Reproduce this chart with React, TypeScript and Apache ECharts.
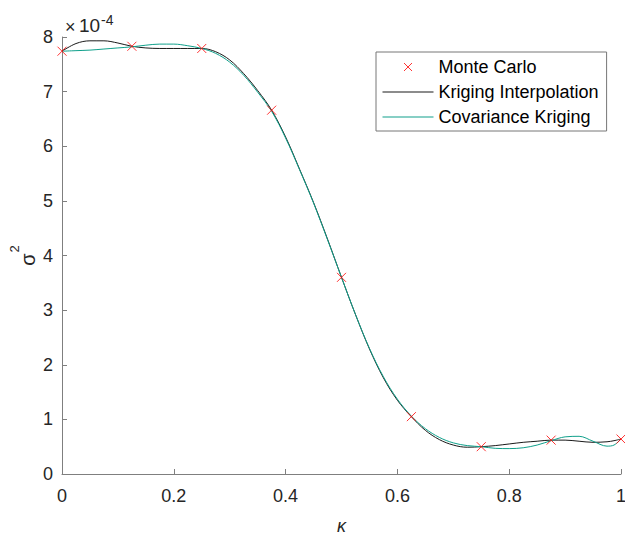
import React, { useEffect, useRef } from "react";
import * as echarts from "echarts";

// Values are in units of 1e-4
const kappaMC = [0, 0.125, 0.25, 0.375, 0.5, 0.625, 0.75, 0.875, 1];
const varianceMC = [7.74, 7.83, 7.79, 6.66, 3.6, 1.05, 0.5, 0.62, 0.64];

const kappaGrid = [
  0, 0.025, 0.05, 0.075, 0.1, 0.125, 0.15, 0.175, 0.2, 0.225, 0.25, 0.275, 0.3, 0.325,
  0.35, 0.375, 0.4, 0.425, 0.45, 0.475, 0.5, 0.525, 0.55, 0.575, 0.6, 0.625, 0.65,
  0.675, 0.7, 0.725, 0.75, 0.775, 0.8, 0.825, 0.85, 0.875, 0.9, 0.925, 0.95, 0.975,
  0.9875, 1,
];
const krigingInterp = [
  7.74, 7.88, 7.93, 7.93, 7.89, 7.83, 7.8, 7.79, 7.79, 7.79, 7.79, 7.73, 7.58, 7.33,
  7.02, 6.66, 6.17, 5.58, 4.97, 4.3, 3.6, 2.92, 2.29, 1.76, 1.35, 1.05, 0.8,
  0.63, 0.53, 0.49, 0.5, 0.52, 0.55, 0.58, 0.6, 0.62, 0.62, 0.6, 0.58, 0.59,
  0.61, 0.64,
];
const covarianceKriging = [
  7.74, 7.75, 7.76, 7.78, 7.8, 7.82, 7.85, 7.87, 7.87, 7.84, 7.79, 7.7, 7.54, 7.3,
  6.99, 6.64, 6.15, 5.57, 4.96, 4.29, 3.6, 2.92, 2.3, 1.78, 1.37, 1.06, 0.83,
  0.67, 0.57, 0.52, 0.5, 0.47, 0.465, 0.48, 0.53, 0.61, 0.68, 0.69, 0.6, 0.51,
  0.53, 0.64,
];

const xTicks = { min: 0, max: 1, interval: 0.2 };
const yTicks = { min: 0, max: 8, interval: 1 };
const scaleExponent = "-4";

const FONT = "'Liberation Sans', Arial, Helvetica, sans-serif";
const AXIS_COLOR = "#7f7f7f";
const TEXT_COLOR = "#262626";
const BLACK_LINE = "#1a1a1a";
const TEAL_LINE = "#10a08b";

// legend icons (bounding box 51 x 8)
const CROSS_ICON = "path://M0,0M51,8M21.5,0L29.5,8M29.5,0L21.5,8";
const LINE_ICON = "path://M0,0M51,8M0,3.5L51,3.5L51,4.5L0,4.5Z";

export default function App() {
  const ref = useRef<HTMLDivElement>(null);

  useEffect(() => {
    if (!ref.current) return;
    const chart = echarts.init(ref.current, undefined, { renderer: "svg" });

    const mc = kappaMC.map((k, i) => [k, varianceMC[i]]);
    const ki = kappaGrid.map((k, i) => [k, krigingInterp[i]]);
    const ck = kappaGrid.map((k, i) => [k, covarianceKriging[i]]);

    const axisCommon = {
      type: "value" as const,
      axisLine: { show: true, lineStyle: { color: AXIS_COLOR, width: 1 } },
      axisTick: { show: true, inside: true, length: 5, lineStyle: { color: AXIS_COLOR } },
      splitLine: { show: false },
    };

    chart.setOption({
      animation: false,
      textStyle: { fontFamily: FONT },
      grid: {
        left: 62,
        right: 4,
        top: 37,
        bottom: 61,
        containLabel: false,
        outerBoundsMode: "none",
      },
      xAxis: {
        ...axisCommon,
        min: xTicks.min,
        max: xTicks.max,
        interval: xTicks.interval,
        axisLabel: { color: TEXT_COLOR, fontSize: 18, margin: 13, fontFamily: FONT },
        name: "κ",
        nameLocation: "middle",
        nameGap: 46,
        nameTextStyle: {
          color: TEXT_COLOR,
          fontSize: 18,
          lineHeight: 12,
          fontStyle: "italic",
          fontFamily: FONT,
        },
      },
      yAxis: {
        ...axisCommon,
        min: yTicks.min,
        max: yTicks.max,
        interval: yTicks.interval,
        axisLabel: { color: TEXT_COLOR, fontSize: 18, margin: 9, fontFamily: FONT },
      },
      legend: {
        orient: "vertical",
        left: 376,
        top: 52,
        padding: [6, 8, 5, 6],
        itemGap: 7,
        itemWidth: 51,
        itemHeight: 8,
        borderColor: "#777777",
        borderWidth: 1,
        backgroundColor: "#ffffff",
        textStyle: { color: "#000000", fontSize: 18, lineHeight: 18, fontFamily: FONT },
        data: [
          {
            name: "Monte Carlo",
            icon: CROSS_ICON,
            itemStyle: { borderWidth: 1, borderColor: "#ff0000", color: "#ff0000" },
          },
          {
            name: "Kriging Interpolation",
            icon: LINE_ICON,
            itemStyle: { color: BLACK_LINE, borderWidth: 0 },
          },
          {
            name: "Covariance Kriging",
            icon: LINE_ICON,
            itemStyle: { color: TEAL_LINE, borderWidth: 0 },
          },
        ],
      },
      series: [
        {
          name: "Monte Carlo",
          type: "scatter",
          data: mc,
          symbol: "path://M0,0L8,8M8,0L0,8",
          symbolSize: 9,
          z: 5,
          itemStyle: { color: "#ff0000", borderColor: "#ff0000", borderWidth: 1 },
        },
        {
          name: "Kriging Interpolation",
          type: "line",
          data: ki,
          smooth: 0.35,
          symbol: "none",
          showSymbol: false,
          z: 3,
          lineStyle: { color: BLACK_LINE, width: 1 },
          itemStyle: { color: BLACK_LINE },
        },
        {
          name: "Covariance Kriging",
          type: "line",
          data: ck,
          smooth: 0.35,
          symbol: "none",
          showSymbol: false,
          z: 4,
          lineStyle: { color: TEAL_LINE, width: 1 },
          itemStyle: { color: TEAL_LINE },
        },
      ],
      graphic: [
        {
          type: "text",
          x: 65,
          y: 26.5,
          style: { text: "×", font: `18px ${FONT}`, fill: TEXT_COLOR, textAlign: "left", textVerticalAlign: "middle" },
        },
        {
          type: "text",
          x: 79,
          y: 25,
          style: { text: "10", font: `19px ${FONT}`, fill: TEXT_COLOR, textAlign: "left", textVerticalAlign: "middle" },
        },
        {
          type: "text",
          x: 101,
          y: 20,
          style: { text: scaleExponent, font: `14px ${FONT}`, fill: TEXT_COLOR, textAlign: "left", textVerticalAlign: "middle" },
        },
        {
          type: "text",
          x: 27.5,
          y: 259.5,
          rotation: Math.PI / 2,
          style: { text: "σ", font: `20px ${FONT}`, fill: TEXT_COLOR, textAlign: "center", textVerticalAlign: "middle" },
        },
        {
          type: "text",
          x: 14.5,
          y: 249,
          rotation: Math.PI / 2,
          style: { text: "2", font: `13px ${FONT}`, fill: TEXT_COLOR, textAlign: "center", textVerticalAlign: "middle" },
        },
      ],
    });

    return () => chart.dispose();
  }, []);

  return (
    <div
      ref={ref}
      style={{ position: "fixed", left: 0, top: 0, width: 625, height: 535, background: "#ffffff" }}
    />
  );
}
